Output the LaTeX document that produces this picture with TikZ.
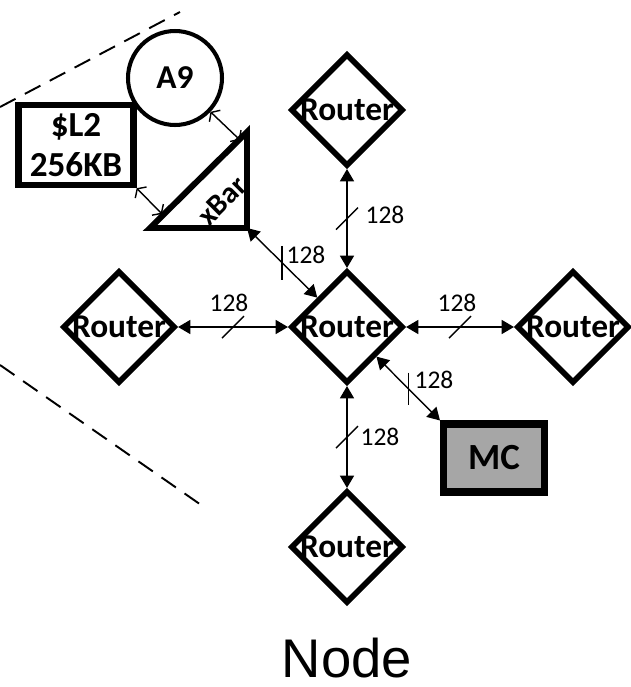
\documentclass[tikz,border=0pt]{standalone}
\usepackage{fontspec}
\setmainfont{Carlito}
\newfontfamily\captionfont{Liberation Sans}
\usetikzlibrary{arrows.meta, shapes.geometric}

\newcommand{\boxfont}{\fontsize{19}{23}\selectfont\bfseries}
\newcommand{\widthfont}{\fontsize{14.5}{15}\selectfont}

\tikzset{
  router/.style={diamond, draw, line width=3.2pt, minimum width=2.25cm,
    minimum height=2.25cm, inner sep=0pt,
    label={[font=\boxfont]center:Router}},
  bus/.style={line width=0.8pt,
    {Triangle[length=7pt,width=8pt]}-{Triangle[length=7pt,width=8pt]}},
  link/.style={line width=0.8pt,
    {Straight Barb[length=3pt,width=9pt]}-{Straight Barb[length=3pt,width=9pt]}},
  buslabel/.style={font=\widthfont, inner sep=0pt},
  widthmark/.style={line width=0.8pt}
}

\begin{document}
\begin{tikzpicture}[x=0.02cm, y=-0.02cm]
  \useasboundingbox (0,0) rectangle (631,687);

  % Node boundary
  \draw[dashed, line width=1.1pt, dash pattern=on 10pt off 6pt] (0,107) -- (180,12);
  \draw[dashed, line width=1.1pt, dash pattern=on 10pt off 6pt] (0,365) -- (204,507);

  % Routers
  \node[router] (c) at (347,327) {};
  \node[router] (rt) at (347,110) {};
  \node[router] (rl) at (119,327) {};
  \node[router] (rr) at (573,327) {};
  \node[router] (rb) at (347,547) {};

  % Core, cache and crossbar
  \node[circle, draw, line width=2.3pt, minimum size=1.88cm, inner sep=0pt,
    font=\boxfont] (a9) at (175,78) {A9};
  \node[draw, line width=3.6pt, minimum width=2.3cm, minimum height=1.6cm,
    inner sep=0pt, align=center, font=\fontsize{20}{23}\selectfont\bfseries]
    (l2) at (76,145) {\$L2\\256KB};
  \coordinate (xb1) at (150,228);
  \coordinate (xb2) at (247,132);
  \coordinate (xb3) at (247,228);
  \draw[line width=3.4pt, line join=miter] (xb1) -- (xb2) -- (xb3) -- cycle;
  \node[rotate=45, font=\fontsize{17}{18}\selectfont\bfseries, inner sep=0pt]
    (xbar) at (222,201) {xBar};
  \coordinate (xbin1) at (240,140);
  \coordinate (xbin2) at (162,214);

  % Memory controller
  \node[draw, fill=black!35, line width=4pt, minimum width=2.02cm,
    minimum height=1.36cm, inner sep=0pt, font=\fontsize{21}{22}\selectfont\bfseries]
    (mc) at (494,458) {MC};

  % Local links
  \draw[link] (a9) -- (xbin1);
  \draw[link] (l2.south east) -- (xbin2);

  % 128-bit links
  \draw[bus] (rt) -- coordinate (tt) (c);
  \draw[bus] (rl) -- coordinate (tl) (c);
  \draw[bus] (c) -- coordinate (tr) (rr);
  \draw[bus] (c) -- coordinate (tb) (rb);
  \draw[bus] (xb3) -- coordinate (tx) (c);
  \draw[bus] (c) -- coordinate (tm) (mc.north west);

  % Width marks
  \draw[widthmark] (tt) ++(-11,11) -- ++(22,-22);
  \draw[widthmark] (tl) ++(-11,11) -- ++(22,-22);
  \draw[widthmark] (tr) ++(-11,11) -- ++(22,-22);
  \draw[widthmark] (tb) ++(-11,11) -- ++(22,-22);
  \draw[widthmark] (tx) ++(0,-17) -- ++(0,34);
  \draw[widthmark] (tm) ++(0,-16) -- ++(0,32);

  \node[buslabel] (wt) at (385,215) {128};
  \node[buslabel] (wl) at (229,303) {128};
  \node[buslabel] (wr) at (457,303) {128};
  \node[buslabel] (wb) at (380,437) {128};
  \node[buslabel] (wx) at (306,255) {128};
  \node[buslabel] (wm) at (434,380) {128};

  % Caption
  \node[anchor=base, font=\captionfont\fontsize{31}{32}\selectfont] (cap) at (347,677) {Node};
\end{tikzpicture}
\end{document}
